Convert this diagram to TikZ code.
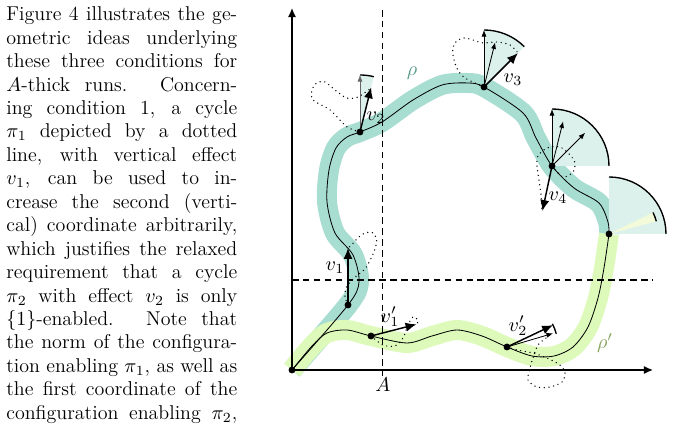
\documentclass[tikz,border=0pt]{standalone}
\usepackage{fix-cm}
\usetikzlibrary{arrows.meta}
\definecolor{rhoband}{RGB}{168,221,209}
\definecolor{rhopband}{RGB}{221,250,186}
\definecolor{fanfill}{RGB}{220,241,235}
\definecolor{wedgefill}{RGB}{242,250,218}
\definecolor{rhotext}{RGB}{90,155,138}
\definecolor{rhoptext}{RGB}{135,165,95}
\begin{document}
\begin{tikzpicture}[x=0.55pt, y=0.55pt, font=\fontsize{11}{12.9}\selectfont,
    band/.style={line width=11pt},
    run/.style={line width=0.45pt},
    cyc/.style={line width=0.8pt, dash pattern=on 0pt off 2.6pt, line cap=round},
    eff/.style={line width=0.8pt, -{Latex[length=6pt,width=5pt]}},
    dir/.style={line width=0.45pt, -{Latex[length=3.6pt,width=2.8pt]}},
    fanarc/.style={line width=0.75pt},
    guide/.style={line width=0.6pt, dash pattern=on 3.6pt off 2.4pt},
    axis/.style={thick, {Latex[length=5pt,width=4.5pt]}-{Latex[length=5pt,width=4.5pt]}}]
  \useasboundingbox (-292,-57) rectangle (381,370);
  % the paragraph beside the figure
  \foreach \t [count=\i from 0] in {{Figure 4 illustrates the ge-},{ometric ideas underlying},
      {these three conditions for},{$A$-thick runs.  Concern-},{ing condition 1, a cycle},
      {$\pi_1$ depicted by a dotted},{line, with vertical effect},{$v_1$, can be used to in-},
      {crease the second (verti-},{cal) coordinate arbitrarily,},{which justifies the relaxed},
      {requirement that a cycle},{$\pi_2$ with effect $v_2$ is only},{$\{1\}$-enabled.  Note that},
      {the norm of the configura-},{tion enabling $\pi_1$, as well as},{the first coordinate of the},
      {configuration enabling $\pi_2$,}}
    \node[anchor=base west, inner sep=0] (l\i) at (-286,349.3-23.45*\i) {\makebox[127pt][s]{\t}};
  % points on the runs
  \coordinate (O) at (0,0);
  \coordinate (xend) at (361,0);
  \coordinate (yend) at (0,362);
  \coordinate (p1) at (56,65);
  \coordinate (p2) at (68,238);
  \coordinate (p3) at (192,283);
  \coordinate (p4) at (260,204);
  \coordinate (p5) at (317,136);
  \coordinate (q1) at (79,34);
  \coordinate (q2) at (215,23);
  \coordinate (atop) at (90.5,360);
  \coordinate (abot) at (90.5,-6);
  \coordinate (hl) at (0,90);
  \coordinate (hr) at (361,90);
  \def\rhopts{(O) (p1) (67,88) (61,115) (43,137) (35,168) (37,200) (44,222) (55,233) (p2) (90,248)
      (121,270) (150,285) (176,287) (p3) (231,257) (244,232) (p4) (282,182) (307,167) (316,148) (p5)}
  \def\rhoppts{(O) (20,24) (35,37) (55,40) (q1) (115,27) (140,34) (165,40) (190,34) (q2) (240,14)
      (262,14) (281,23) (296,43) (306,72) (312,102) (p5)}
  % bands
  \draw[band, rhoband] plot[smooth] coordinates {\rhopts};
  \draw[band, rhopband] plot[smooth] coordinates {\rhoppts};
  % cones of directions
  \fill[fanfill] (p2) -- ++(76:57) arc (76:90:57) -- cycle;
  \fill[fanfill] (p3) -- ++(45:57) arc (45:90:57) -- cycle;
  \fill[fanfill] (p4) -- ++(0:57) arc (0:90:57) -- cycle;
  \fill[fanfill] (p5) -- ++(0:57) arc (0:90:57) -- cycle;
  \fill[wedgefill] (p5) -- ++(15:49) arc (15:26:49) -- cycle;
  \draw[fanarc] (p2) ++(76:57) arc (76:90:57);
  \draw[fanarc] (p3) ++(45:57) arc (45:90:57);
  \draw[fanarc] (p4) ++(0:57) arc (0:90:57);
  \draw[fanarc] (p5) ++(0:57) arc (0:90:57);
  \draw[fanarc] (p5) ++(15:49) arc (15:26:49);
  \draw[fanarc] (q2) ++(15:51) arc (15:27:51);
  % axes and guides
  \draw[axis] (xend) -- (O) -- (yend);
  \draw[guide] (atop) -- (abot);
  \draw[guide] (hl) -- (hr);
  \node (alab) at (91,-15) {$A$};
  % the runs
  \draw[run] plot[smooth] coordinates {\rhopts};
  \draw[run] plot[smooth] coordinates {\rhoppts};
  % cycles
  \draw[cyc] plot[smooth] coordinates {(p1) (53,73) (54,82) (62,92) (73,101) (79.7,113) (83,121)
      (84.7,130) (82,136) (78,138) (71,136) (64.7,131) (59.7,125) (56,122)};
  \draw[cyc] plot[smooth] coordinates {(p2) (54.7,243.3) (38,260) (21,270) (20,280) (24.7,287)
      (33,288) (43,280) (54.7,272) (66,273) (79,282)};
  \draw[cyc] plot[smooth] coordinates {(p3) (173,292) (164.7,302) (160.7,317) (163,327) (171,332)
      (181,330) (191,327) (205,328) (218,325) (226,317)};
  \draw[cyc] plot[smooth] coordinates {(p4) (271,193) (281,198) (283,207) (278,215) (268,223)
      (255,222) (246,214) (245,204) (247,190) (249,175) (250,159)};
  \draw[cyc] plot[smooth] coordinates {(q1) (91,25) (103,24) (111,32) (116,45) (121,53) (126,50)
      (125,46)};
  \draw[cyc] plot[smooth] coordinates {(q2) (225,20) (241,17) (255,12) (268,5) (273,-3) (270,-12)
      (258,-17) (245,-17) (236,-10) (238,2) (242,15) (246,25) (254,32) (261,37)};
  % directions and effects
  \draw[dir, black!60] (p2) -- ++(90:57);
  \draw[dir] (p3) -- ++(90:57);
  \draw[dir] (p3) -- ++(76:46);
  \draw[dir] (p4) -- ++(90:57);
  \draw[dir] (p4) -- ++(76:46);
  \draw[dir] (p4) -- ++(45:47);
  \draw[dir] (q2) -- ++(16.5:48);
  \draw[eff] (p1) -- ++(90:57);
  \draw[eff] (p2) -- ++(76:46);
  \draw[eff] (p3) -- ++(45:48);
  \draw[eff] (p4) -- ++(258:46);
  \draw[eff] (q1) -- ++(14.4:47);
  \draw[eff] (q2) -- ++(25.4:51);
  \foreach \p in {O,p1,p2,p3,p4,p5,q1,q2}
    \fill (\p) circle[radius=1.9pt];
  % labels
  \node (v1lab) at (43,102) {$v_1$};
  \node (v2lab) at (84,252) {$v_2$};
  \node (v3lab) at (221,290) {$v_3$};
  \node (v4lab) at (266,172) {$v_4$};
  \node (v1plab) at (98,53) {$v_1'$};
  \node (v2plab) at (226,44) {$v_2'$};
  \node[rhotext] (rholab) at (120,297) {$\rho$};
  \node[rhoptext] (rhoplab) at (313,27) {$\rho'$};
\end{tikzpicture}
\end{document}
